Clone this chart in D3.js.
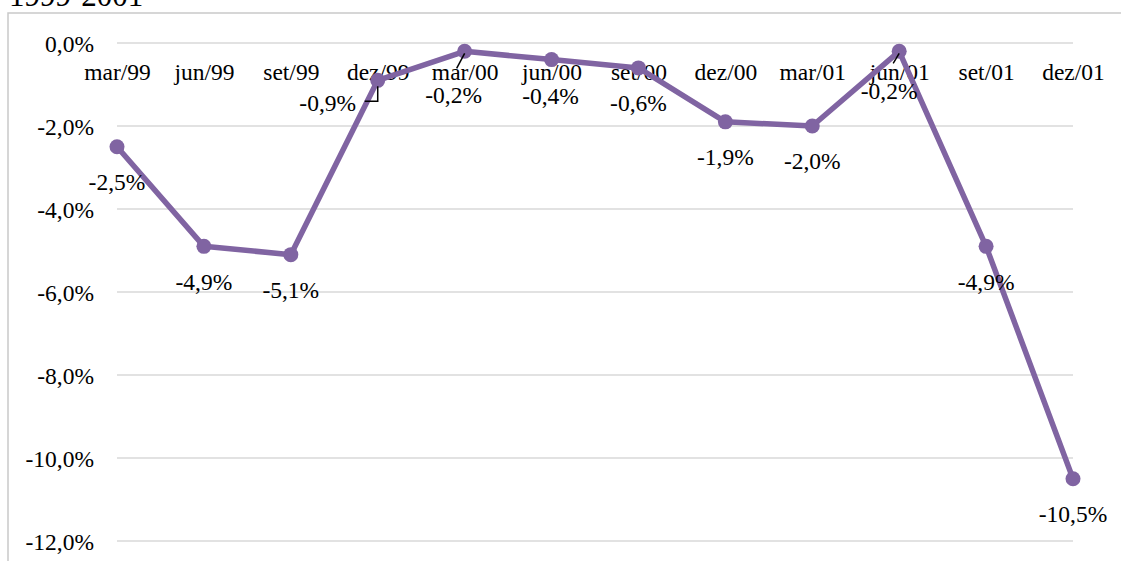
<!DOCTYPE html>
<html>
<head>
<meta charset="utf-8">
<script src="https://cdn.jsdelivr.net/npm/d3@7"></script>
<style>
  html, body { margin: 0; padding: 0; background: #fff; }
  svg { display: block; }
  svg text { font-family: "Liberation Serif", "Times New Roman", Times, serif !important; fill: #000; }
</style>
</head>
<body>
<svg id="chart" width="1121" height="561"></svg>
<script>
// Quarterly variation, 1999-2001
const categories = ["mar/99", "jun/99", "set/99", "dez/99", "mar/00", "jun/00",
                    "set/00", "dez/00", "mar/01", "jun/01", "set/01", "dez/01"];
const values = [-2.5, -4.9, -5.1, -0.9, -0.2, -0.4, -0.6, -1.9, -2.0, -0.2, -4.9, -10.5];
const yTicks = [0, -2, -4, -6, -8, -10, -12];
const title = "1999-2001";

// Manual nudges for labels that were dragged away from their default spot
// below the point, plus the leader lines that connect them back.
const labelNudge = {
  3: { dx: -50, dy: -13, leader: [[0, 6], [0, 21], [-13, 21]] },
  4: { dx: -11, dy: 8, leader: [[0, 2], [-8, 17]] },
  5: { dx: -1, dy: 1 },
  9: { dx: -10, dy: 4, leader: [[0, 2], [-6, 12]] }
};

const W = 1121, H = 561;
const FONT = "Liberation Serif";
const FS = 23.5;
const svg = d3.select("#chart");

const pt = d3.formatLocale({ decimal: ",", thousands: ".", grouping: [3], currency: ["", ""], minus: "-" });
const fmt = v => pt.format(".1f")(v) + "%";

const x = d3.scalePoint().domain(categories).range([117, 1073]);
const y = d3.scaleLinear().domain([-12, 0]).range([541, 43]);

// chart frame
svg.append("rect")
  .attr("x", 8).attr("y", 13)
  .attr("width", W + 20).attr("height", H + 20)
  .attr("fill", "none").attr("stroke", "#c9c9c9").attr("stroke-width", 1.5);

// title (partly above the frame)
svg.append("text")
  .attr("x", 9).attr("y", 6)
  .attr("font-family", FONT)
  .attr("font-size", 31)
  .text(title);

// gridlines
svg.append("g").selectAll("line").data(yTicks).join("line")
  .attr("x1", x.range()[0]).attr("x2", x.range()[1])
  .attr("y1", d => y(d)).attr("y2", d => y(d))
  .attr("stroke", "#d9d9d9").attr("stroke-width", 1.5);

// y axis labels
const yAxis = d3.axisLeft(y).tickValues(yTicks).tickFormat(fmt).tickSize(0).tickPadding(0);
const gy = svg.append("g").attr("transform", "translate(94,0)").call(yAxis)
  .attr("font-family", FONT).attr("font-size", FS);
gy.select(".domain").remove();
gy.selectAll("text").attr("fill", "#000").attr("dy", "0.35em");

// category labels sit just under the zero line
const xAxis = d3.axisBottom(x).tickSize(0).tickPadding(0);
const gx = svg.append("g").attr("transform", `translate(0,${y(0)})`).call(xAxis)
  .attr("font-family", FONT).attr("font-size", FS);
gx.select(".domain").remove();
gx.selectAll("text").attr("fill", "#000").attr("dy", null).attr("y", 37);

// series line and markers
const color = "#8064a2";
const line = d3.line().x((d, i) => x(categories[i])).y(d => y(d));
svg.append("path")
  .datum(values)
  .attr("d", line)
  .attr("fill", "none").attr("stroke", color)
  .attr("stroke-width", 5.5).attr("stroke-linejoin", "round");

svg.append("g").selectAll("circle").data(values).join("circle")
  .attr("cx", (d, i) => x(categories[i]))
  .attr("cy", d => y(d))
  .attr("r", 7.5)
  .attr("fill", color);

// data labels
const labels = svg.append("g").attr("font-family", FONT).attr("font-size", FS);
values.forEach((v, i) => {
  const px = x(categories[i]), py = y(v);
  const n = labelNudge[i] || { dx: 0, dy: 0 };
  const lx = px + n.dx, ly = py + 35 + n.dy;
  if (n.leader) {
    labels.append("path")
      .attr("d", d3.line()(n.leader.map(([a, b]) => [px + a, py + b])))
      .attr("fill", "none").attr("stroke", "#000").attr("stroke-width", 1.5);
  }
  labels.append("text")
    .attr("x", lx).attr("y", ly)
    .attr("dy", "0.35em")
    .attr("text-anchor", "middle")
    .text(fmt(v));
});
</script>
</body>
</html>
